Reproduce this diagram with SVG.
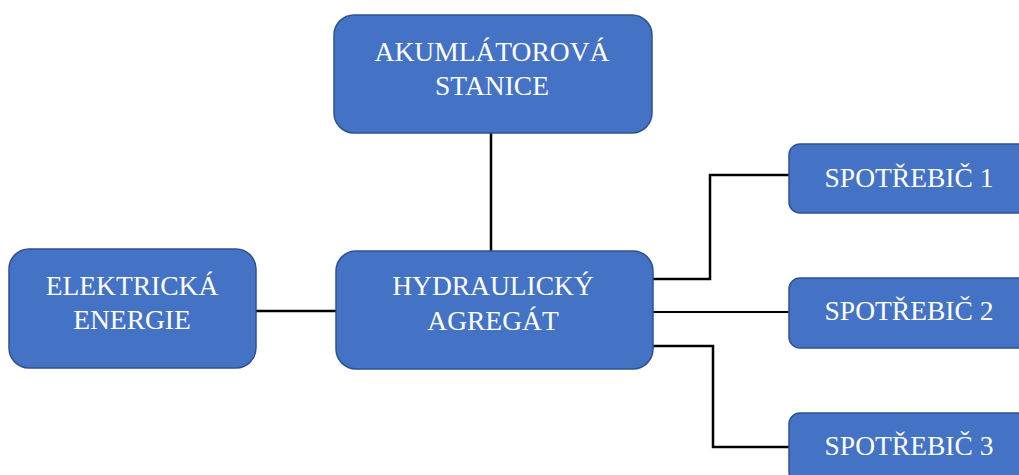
<svg xmlns="http://www.w3.org/2000/svg" width="1019" height="475" viewBox="0 0 1019 475">
  <style>
    .box { fill: #4472C4; stroke: #2F528F; stroke-width: 1.5; }
    .lbl { font-family: "Liberation Serif", "Times New Roman", serif; font-size: 27.5px; fill: #FFFFFF; text-anchor: middle; }
    .wire { fill: none; stroke: #000000; stroke-width: 2.5; }
  </style>
  <rect width="1019" height="475" fill="#FFFFFF"/>

  <!-- connectors -->
  <g id="connectors">
    <line class="wire" x1="491" y1="133" x2="491" y2="251"/>
    <line class="wire" x1="256" y1="311" x2="336" y2="311"/>
    <polyline class="wire" points="653,279 710,279 710,175 789,175"/>
    <line class="wire" x1="653" y1="312" x2="789" y2="312" style="stroke-width:2"/>
    <polyline class="wire" points="653,346 713,346 713,447 789,447"/>
  </g>

  <g id="akumulatorova-stanice">
    <rect class="box" x="334" y="15" width="318" height="118" rx="20"/>
    <text class="lbl" x="492" y="60.5">AKUMLÁTOROVÁ</text>
    <text class="lbl" x="492" y="94.5">STANICE</text>
  </g>

  <g id="elektricka-energie">
    <rect class="box" x="9" y="249" width="247" height="119" rx="20"/>
    <text class="lbl" x="132" y="295">ELEKTRICKÁ</text>
    <text class="lbl" x="132" y="329">ENERGIE</text>
  </g>

  <g id="hydraulicky-agregat">
    <rect class="box" x="336" y="251" width="317" height="118" rx="20"/>
    <text class="lbl" x="493" y="295">HYDRAULICKÝ</text>
    <text class="lbl" x="493" y="330">AGREGÁT</text>
  </g>

  <g id="spotrebic-1">
    <rect class="box" x="789" y="144" width="245" height="69" rx="11"/>
    <text class="lbl" x="909" y="187">SPOTŘEBIČ 1</text>
  </g>

  <g id="spotrebic-2">
    <rect class="box" x="789" y="278" width="245" height="70" rx="11"/>
    <text class="lbl" x="909" y="320">SPOTŘEBIČ 2</text>
  </g>

  <g id="spotrebic-3">
    <rect class="box" x="789" y="413" width="245" height="70" rx="11"/>
    <text class="lbl" x="909" y="455">SPOTŘEBIČ 3</text>
  </g>
</svg>
